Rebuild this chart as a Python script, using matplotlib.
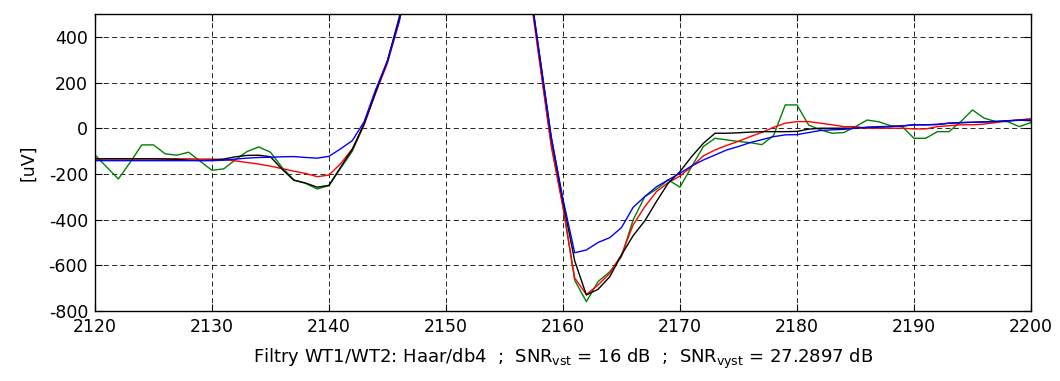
import numpy as np
import matplotlib
matplotlib.use("Agg")
import matplotlib.pyplot as plt

plt.rcParams['font.family'] = ['DejaVu Sans']
plt.rcParams['mathtext.default'] = 'regular'
plt.rcParams['axes.unicode_minus'] = False

x = list(range(2120, 2201))

black = [-134, -134, -134, -134, -134, -134, -135, -136, -140, -141,
         -140, -135, -125, -119, -118, -125, -180, -228, -240, -258,
         -250, -170, -92, 20, 160, 295, 480, 720, 1000, 1300,
         1550, 1720, 1780, 1700, 1500, 1250, 980, 680, 320, -40,
         -320, -580, -730, -705, -650, -555, -470, -405, -320, -240,
         -190, -124, -66, -22, -22, -20, -17, -15, -15, -15,
         -14, -4, 0, 0, 0, 0, 4, 5, 7, 10,
         15, 15, 16, 22, 24, 26, 28, 30, 32, 35,
         33]

red = [-134, -134, -134, -134, -134, -134, -134, -134, -134, -135,
       -135, -137, -143, -150, -157, -166, -177, -188, -198, -212,
       -205, -155, -90, 15, 155, 285, 465, 700, 980, 1280,
       1530, 1700, 1760, 1690, 1490, 1240, 960, 660, 290, -80,
       -345, -655, -728, -686, -635, -554, -423, -343, -277, -238,
       -209, -168, -121, -95, -75, -57, -37, -18, 4, 22,
       29, 29, 22, 15, 7, 7, 0, 0, 0, 0,
       -3, -3, 7, 11, 15, 15, 18, 25, 33, 36,
       42]

blue = [-142, -142, -142, -142, -142, -142, -142, -142, -142, -142,
        -142, -140, -135, -131, -128, -127, -125, -124, -128, -131,
        -123, -90, -54, 28, 170, 295, 470, 700, 990, 1290,
        1540, 1710, 1770, 1695, 1495, 1245, 975, 680, 320, -40,
        -310, -545, -533, -500, -479, -435, -346, -299, -256, -226,
        -197, -165, -139, -117, -95, -80, -63, -50, -37, -29,
        -28, -19, -10, -7, -5, 0, 4, 7, 8, 10,
        15, 15, 17, 22, 25, 26, 27, 29, 32, 36,
        36]

green = [-117, -170, -222, -150, -73, -73, -112, -118, -105, -145,
         -184, -178, -138, -102, -82, -105, -172, -226, -241, -266,
         -251, -175, -100, 15, 160, 295, 485, 720, 1000, 1300,
         1550, 1720, 1780, 1700, 1500, 1250, 980, 680, 300, -70,
         -340, -665, -759, -671, -628, -562, -401, -299, -267, -226,
         -258, -168, -80, -44, -51, -58, -63, -72, -32, 102,
         102, 14, -7, -22, -19, 7, 36, 28, 11, 7,
         -44, -44, -15, -15, 29, 80, 44, 29, 29, 7,
         25]

xticks = list(range(2120, 2201, 10))
yticks = list(range(-800, 401, 200))
xlabel_text = (r'Filtry WT1/WT2: Haar/db4  ;  SNR$_{vst}$ = 16 dB  ;  '
               r'SNR$_{vyst}$ = 27.2897 dB')

fig = plt.figure(figsize=(10.6, 3.81), dpi=100)
ax = fig.add_axes([0.0896, 0.1837, 0.9726 - 0.0896, 0.9633 - 0.1837])

lw = 1.0
ax.plot(x, green, color='#008000', lw=lw)
ax.plot(x, red, color='#ff0000', lw=lw)
ax.plot(x, black, color='#000000', lw=lw)
ax.plot(x, blue, color='#0000ff', lw=lw)

ax.set_xlim(2120, 2200)
ax.set_ylim(-800, 500)
ax.set_xticks(xticks)
ax.set_yticks(yticks)
ax.grid(True, color='black', linestyle=(0, (6, 4)), linewidth=0.6)
ax.tick_params(direction='in', length=5, width=0.8, labelsize=12.5,
               top=True, right=True, colors='black')
ax.tick_params(axis='x', pad=5)
ax.tick_params(axis='y', pad=5)
for s in ax.spines.values():
    s.set_linewidth(1.0)
    s.set_color('black')

ax.set_ylabel('[uV]', fontsize=12.5, labelpad=8)
ax.set_xlabel(xlabel_text, fontsize=13, labelpad=8)

fig.savefig('out.png', dpi=100)
